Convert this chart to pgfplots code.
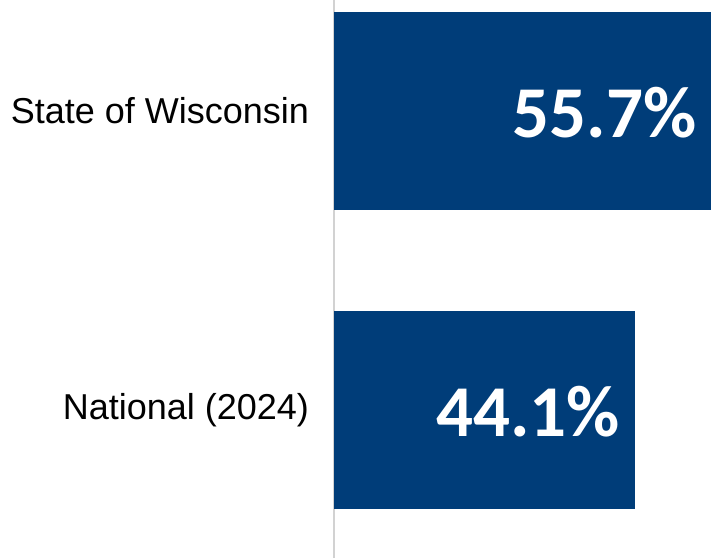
\documentclass[border=0pt]{standalone}
\usepackage{pgfplots}
\pgfplotsset{compat=1.18}
\usepackage{fontspec}
\setmainfont{Liberation Sans}
\newfontfamily\valfont{Carlito}
\definecolor{barblue}{RGB}{0,61,121}
\definecolor{axgray}{RGB}{210,210,210}
\begin{document}
\begin{tikzpicture}
\useasboundingbox (-167pt,0) rectangle (188.5pt,279pt);
\begin{axis}[
  at={(0,0)}, anchor=south west,
  scale only axis,
  width=188.5pt, height=279pt,
  xbar, bar width=0.665, bar shift=0pt,
  xmin=0, xmax=55.2,
  ymin=-0.495, ymax=1.371,
  hide x axis,
  axis y line*=left,
  y axis line style={draw=axgray, line width=1pt, -},
  ytick={0,1},
  yticklabels={National (2024), State of Wisconsin},
  major tick length=0pt,
  yticklabel style={font=\fontsize{18}{20}\selectfont, text=black, anchor=east, xshift=-9pt},
  clip=false,
  point meta=explicit symbolic,
  nodes near coords,
  every node near coord/.append style={anchor=east, xshift=-4pt, yshift=-1pt, text=white, font=\valfont\bfseries\fontsize{36.5}{40}\selectfont},
]
\addplot[fill=barblue, draw=none] coordinates {(44.1,0) [44.1\%]};
\addplot[fill=barblue, draw=none, every node near coord/.append style={xshift=-1.5pt}] coordinates {(55.7,1) [55.7\%]};
\end{axis}
\end{tikzpicture}
\end{document}
